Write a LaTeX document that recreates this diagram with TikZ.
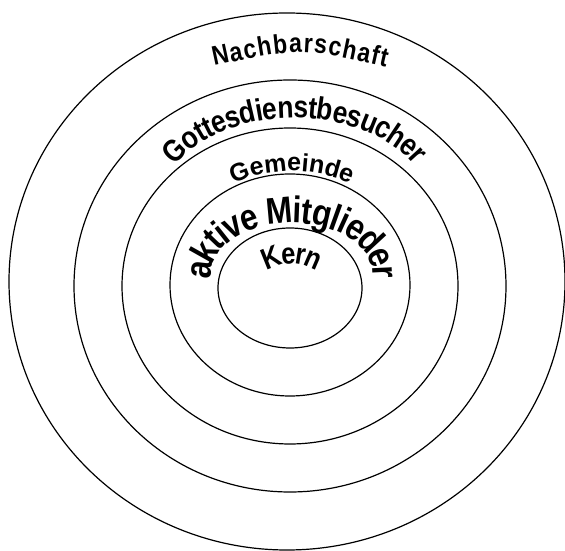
\documentclass[tikz,border=0pt]{standalone}
\usepackage{fontspec}
\setmainfont{Liberation Sans}
\newfontfamily\narrowfont[FakeStretch=0.85]{Liberation Sans}
\usetikzlibrary{decorations.text}

\newcommand\nachfont{\narrowfont\bfseries\fontsize{27}{31}\selectfont}
\newcommand\gottfont{\narrowfont\bfseries\fontsize{31}{35}\selectfont}
\newcommand\gemfont{\bfseries\fontsize{25}{29}\selectfont}
\newcommand\aktfont{\narrowfont\bfseries\fontsize{37}{42}\selectfont}
\newcommand\kernfont{\narrowfont\bfseries\fontsize{30}{34}\selectfont}

\begin{document}
\begin{tikzpicture}[x=1pt, y=1pt, ring/.style={line width=1.2pt}]
    \useasboundingbox (0,0) rectangle (565,551);
    % Rings, outside in
    \draw[ring] (287,269.5) ellipse [x radius=278, y radius=268.5];
    \draw[ring] (290,265) ellipse [x radius=216, y radius=206];
    \draw[ring] (290,265) ellipse [x radius=168, y radius=158];
    \draw[ring] (290,266) ellipse [x radius=120, y radius=111];
    \draw[ring] (290,263) ellipse [x radius=72, y radius=60];
    % Labels along the rings
    \path[decorate, decoration={text along path, text align={fit to path},
        text={|\nachfont|Nachbarschaft}}]
        (214,485) .. controls (300,503.5) .. (386,484);
    \path[decorate, decoration={text along path, text align=center, raise=-8pt,
        text={|\gottfont|Gottesdienstbesucher}}]
        (295,345) ++(157:143 and 96) arc[start angle=157, end angle=23, x radius=143, y radius=96];
    \path[decorate, decoration={text along path, text align=center,
        text={|\gemfont|Gemeinde}}]
        (292,240) ++(118:140) arc[start angle=118, end angle=62, radius=140];
    \path[decorate, decoration={text along path, text align=center, raise=-9pt,
        text={|\aktfont|aktive Mitglieder}}]
        (292,277) ++(195:90 and 60) arc[start angle=195, end angle=-15, x radius=90, y radius=60];
    \path[decorate, decoration={text along path, text align=center, raise=-7pt,
        text={|\kernfont|Kern}}]
        (292,242) ++(130:52) arc[start angle=130, end angle=50, radius=52];
\end{tikzpicture}
\end{document}
